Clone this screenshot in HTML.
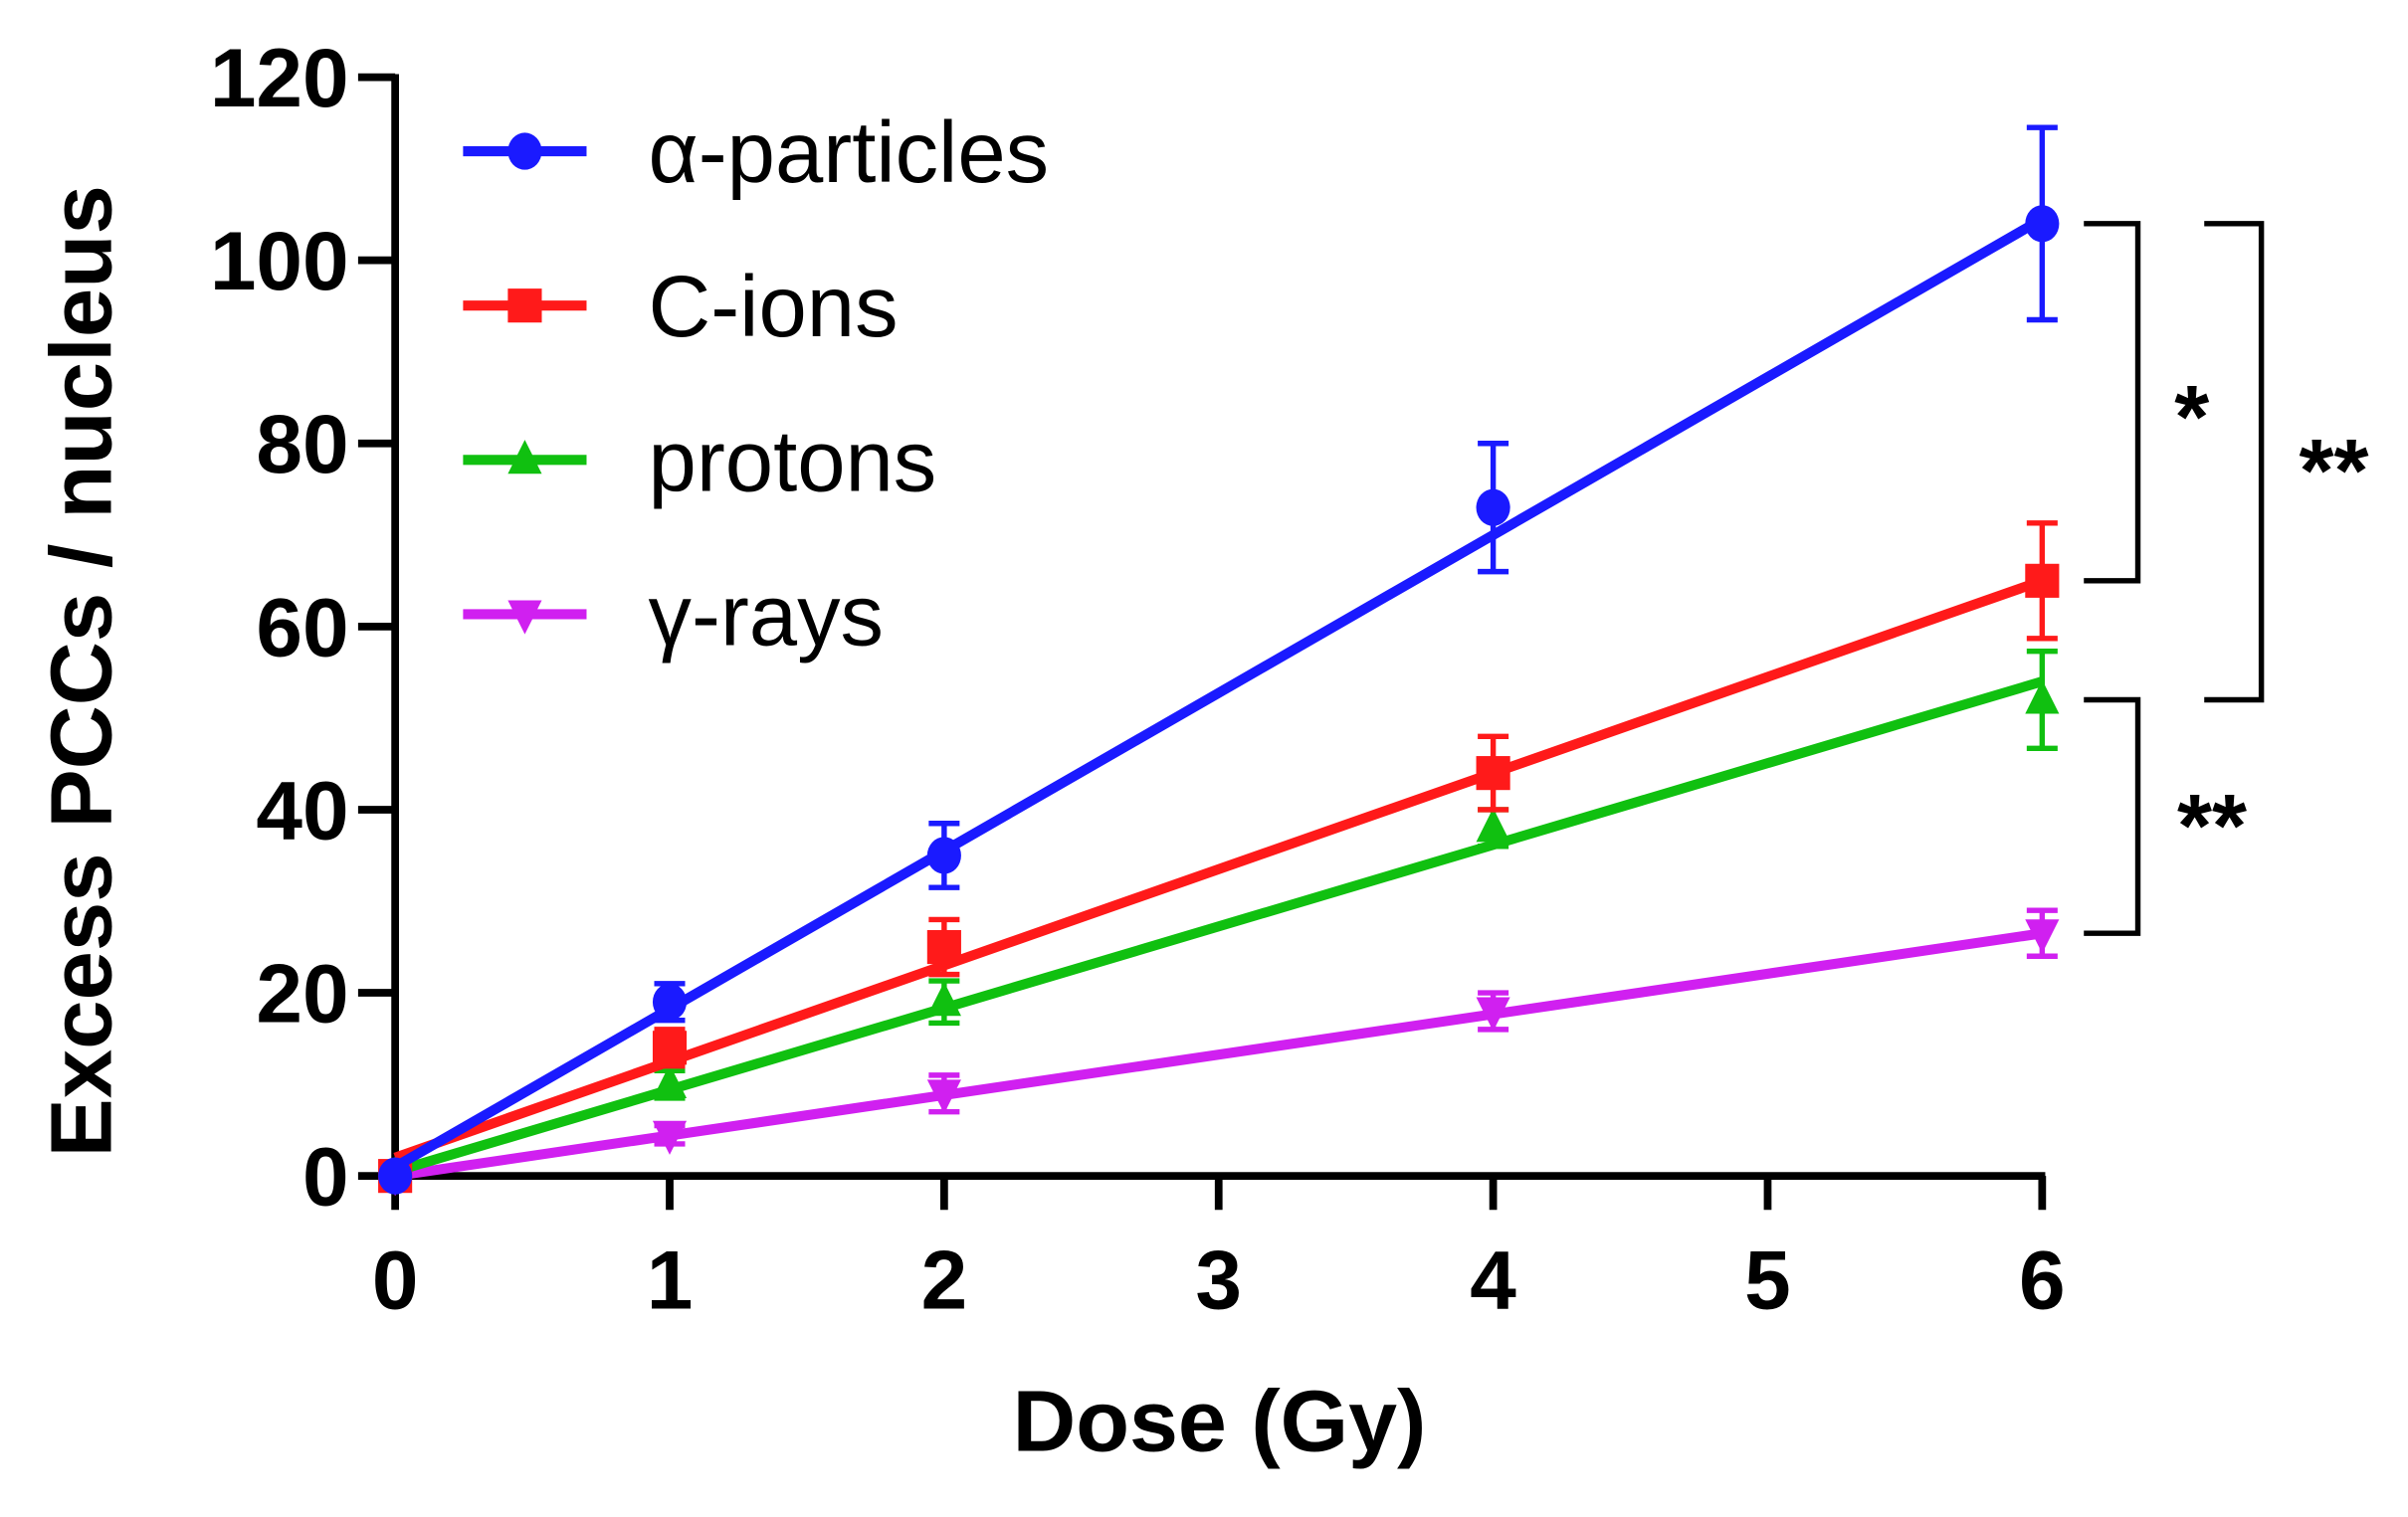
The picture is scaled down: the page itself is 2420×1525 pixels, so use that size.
<!DOCTYPE html>
<html><head><meta charset="utf-8"><style>
html,body{margin:0;padding:0;background:#fff;}
svg{display:block;}
text{font-family:"Liberation Sans",sans-serif;font-weight:bold;}
</style></head><body>
<svg id="chart" width="2420" height="1525" viewBox="0 0 1560 983" preserveAspectRatio="none" xmlns="http://www.w3.org/2000/svg">
<g id="axes"></g>
<g id="series"></g>
<g id="legend"></g>
<g id="sig"></g>
<text x="790" y="940" text-anchor="middle" font-size="56" textLength="268" lengthAdjust="spacingAndGlyphs">Dose (Gy)</text>
<text transform="translate(72,435) rotate(-90)" text-anchor="middle" font-size="56" textLength="630" lengthAdjust="spacingAndGlyphs">Excess PCCs / nucleus</text>
</svg>
<script>
const doses = [0, 1, 2, 4, 6];
const xTicks = [0, 1, 2, 3, 4, 5, 6];
const yTicks = [0, 20, 40, 60, 80, 100, 120];
const seriesNames = ["α-particles", "C-ions", "protons", "γ-rays"];
const alphaMean = [0, 19, 35, 73, 104];
const alphaErr = [0, 2, 3.5, 7, 10.5];
const cMean = [0, 14, 25, 44, 65];
const cErr = [0, 2, 3, 4, 6.3];
const protonMean = [0, 10, 19, 38, 52];
const protonErr = [0, 1.5, 2.3, 2, 5.3];
const gammaMean = [0, 4.5, 9, 18, 26.5];
const gammaErr = [0, 1, 2, 2, 2.5];
const fitStart = [1, 2, 0.5, 0];
const fitEnd = [104.5, 65, 54, 26.5];

const NS = "http://www.w3.org/2000/svg";
const X0 = 256, XS = (1323 - 256) / 6, Y0 = 762, YS = (762 - 50) / 120;
const sx = v => X0 + v * XS;
const sy = v => Y0 - v * YS;
function mk(tag, attrs, parent) {
  const e = document.createElementNS(NS, tag);
  for (const k in attrs) e.setAttribute(k, attrs[k]);
  parent.appendChild(e);
  return e;
}
const axes = document.getElementById('axes');
let el;
el = mk('line', {x1: X0 - 2, y1: sy(0), x2: sx(6) + 2, y2: sy(0), stroke: '#000', 'stroke-width': 5}, axes);


el = mk('line', {x1: X0, y1: sy(0) + 2, x2: X0, y2: sy(120) - 2, stroke: '#000', 'stroke-width': 5}, axes);


xTicks.forEach(t => {
  el = mk('line', {x1: sx(t), y1: sy(0), x2: sx(t), y2: sy(0) + 22, stroke: '#000', 'stroke-width': 5}, axes);
  
  
  el = mk('text', {x: sx(t), y: sy(0) + 86, 'text-anchor': 'middle', 'font-size': 54}, axes);
  el.textContent = t;
  
  
});
yTicks.forEach(t => {
  el = mk('line', {x1: X0 - 24, y1: sy(t), x2: X0, y2: sy(t), stroke: '#000', 'stroke-width': 5}, axes);
  
  
  el = mk('text', {x: X0 - 30, y: sy(t) + 19, 'text-anchor': 'end', 'font-size': 54}, axes);
  el.textContent = t;
  
  
});

const colors = ['#1a1aff', '#ff1a1a', '#10c010', '#d020f0'];
const means = [alphaMean, cMean, protonMean, gammaMean];
const errs = [alphaErr, cErr, protonErr, gammaErr];
const shapes = ['circle', 'square', 'tri', 'tridown'];
function marker(shape, x, y, c, parent) {
  let m;
  if (shape === 'circle') m = mk('ellipse', {cx: x, cy: y, rx: 11, ry: 12, fill: c}, parent);
  else if (shape === 'square') m = mk('rect', {x: x - 11, y: y - 11, width: 22, height: 22, fill: c}, parent);
  else if (shape === 'tri') m = mk('polygon', {points: `${x},${y-13} ${x+11},${y+9} ${x-11},${y+9}`, fill: c}, parent);
  else m = mk('polygon', {points: `${x},${y+13} ${x+11},${y-9} ${x-11},${y-9}`, fill: c}, parent);
  return m;
}
const sg = document.getElementById('series');
for (let s = 3; s >= 0; s--) {
  const g = mk('g', {}, sg);
  
  
  el = mk('line', {x1: sx(0), y1: sy(fitStart[s]), x2: sx(6), y2: sy(fitEnd[s]), stroke: colors[s], 'stroke-width': 6.5}, g);
  
  
  doses.forEach((d, i) => {
    const m = means[s][i], e = errs[s][i];
    if (e > 0) {
      const x = sx(d);
      el = mk('path', {d: `M${x},${sy(m+e)}V${sy(m-e)}M${x-10},${sy(m+e)}H${x+10}M${x-10},${sy(m-e)}H${x+10}`, stroke: colors[s], 'stroke-width': 3.5, fill: 'none'}, g);
      
      
    }
    el = marker(shapes[s], sx(d), sy(m), colors[s], g);
    
    
  });
}
const lg = document.getElementById('legend');
seriesNames.forEach((n, i) => {
  const y = 98 + i * 100;
  const g = mk('g', {}, lg);
  
  
  mk('line', {x1: 300, y1: y, x2: 380, y2: y, stroke: colors[i], 'stroke-width': 6.5}, g);
  marker(shapes[i], 340, y, colors[i], g);
  el = mk('text', {x: 420, y: y + 20, 'font-size': 56, style: 'font-weight:normal'}, g);
  el.textContent = n;
  
  
});
const sgg = document.getElementById('sig');
function bracket(x1, x2, v1, v2, label, lx, ly) {
  el = mk('path', {d: `M${x1},${sy(v1)}H${x2}V${sy(v2)}H${x1}`, stroke: '#000', 'stroke-width': 3.5, fill: 'none'}, sgg);
  
  
  el = mk('text', {x: lx, y: ly, 'text-anchor': 'middle', 'font-size': 58}, sgg);
  el.textContent = label;
  
  
}
bracket(1350, 1385, alphaMean[4], cMean[4], '*', 1420, 290);
bracket(1428, 1465, alphaMean[4], protonMean[4], '**', 1512, 325);
bracket(1350, 1385, protonMean[4], gammaMean[4], '**', 1433, 555);
</script>
</body></html>
